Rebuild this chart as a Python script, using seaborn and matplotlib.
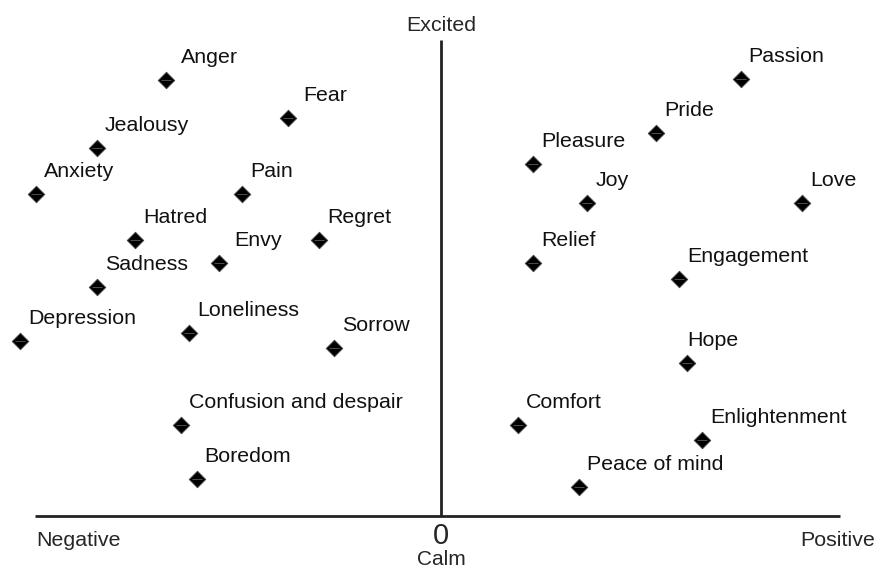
import pandas as pd
import matplotlib
matplotlib.use("Agg")
import matplotlib.pyplot as plt
import seaborn as sns

# ==========================================
# Data: valence (x) and arousal (y)
# ==========================================

emotions = [
    "Anger", "Fear", "Jealousy", "Anxiety", "Pain", "Hatred", "Envy",
    "Regret", "Sadness", "Depression", "Loneliness", "Sorrow",
    "Confusion and despair", "Boredom",
    "Passion", "Pride", "Pleasure", "Joy", "Love", "Relief",
    "Engagement", "Hope", "Comfort", "Enlightenment", "Peace of mind",
]

valence = [
    -6.88, -3.82, -8.61, -10.13, -4.97, -7.65, -5.54,
    -3.05, -8.61, -10.53, -6.30, -2.67,
    -6.50, -6.11,
    7.49, 5.38, 2.31, 3.66, 9.02, 2.31,
    5.95, 6.14, 1.93, 6.53, 3.46,
]

arousal = [
    10.90, 9.96, 9.19, 8.04, 8.04, 6.90, 6.32,
    6.90, 5.73, 4.38, 4.58, 4.19,
    2.28, 0.93,
    10.92, 9.57, 8.80, 7.83, 7.83, 6.32,
    5.93, 3.82, 2.28, 1.90, 0.73,
]

# horizontal nudge of each label, in pixels
label_dx = [
    15, 15, 8, 8, 8, 8, 15,
    8, 8, 8, 8, 8,
    8, 8,
    8, 8, 8, 8, 8, 8,
    8, 1, 8, 8, 8,
]

df = pd.DataFrame({
    "Emotion": emotions,
    "Valence": valence,
    "Arousal": arousal,
    "dx": label_dx,
})

# ==========================================
# Style
# ==========================================

sns.set_style("white")
plt.rcParams["font.family"] = ["Liberation Sans", "DejaVu Sans"]

fig = plt.figure(figsize=(8.78, 5.70), dpi=100)
ax = fig.add_axes([0, 0, 1, 1])

# ==========================================
# Axes lines
# ==========================================

ax.plot([-10.15, 9.975], [0, 0], color="#222222", lw=2.0, solid_capstyle="butt")
ax.plot([0, 0], [0, 11.9], color="#222222", lw=2.0, solid_capstyle="butt")

# ==========================================
# Points
# ==========================================

sns.scatterplot(
    data=df, x="Valence", y="Arousal", ax=ax,
    marker="D", s=70, color="black", edgecolor="#444444", linewidth=0.7,
    zorder=3
)
ax.scatter(df["Valence"], df["Arousal"], marker="_", s=50,
           color="#8a8a8a", linewidths=0.4, zorder=4)

for _, row in df.iterrows():
    ax.annotate(
        row["Emotion"], (row["Valence"], row["Arousal"]),
        xytext=(row["dx"], 22.5), textcoords="offset pixels",
        ha="left", va="center", fontsize=15.4, color="#111111"
    )

# ==========================================
# Axis labels
# ==========================================

ax.text(0, 12.27, "Excited", ha="center", va="center", fontsize=15.4)
ax.text(0, -0.5, "0", ha="center", va="center", fontsize=21)
ax.text(0, -1.32, "Calm", ha="center", va="bottom", fontsize=15)
ax.text(-10.125, -0.6, "Negative", ha="left", va="center", fontsize=15.4)
ax.text(10.85, -0.6, "Positive", ha="right", va="center", fontsize=15.4)

ax.set_xlim(-11.025, 10.925)
ax.set_ylim(-1.35, 12.9)
ax.set_axis_off()

plt.savefig("out.png", dpi=100)
